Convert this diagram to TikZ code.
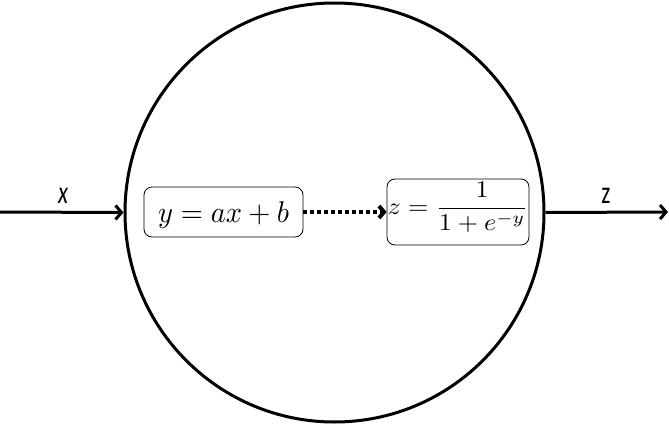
\documentclass[tikz,border=0pt]{standalone}
\usepackage{fontspec}
\newfontfamily\lblfont{Carlito}
\usetikzlibrary{arrows.meta}
\tikzset{
  conn/.style={line width=3pt, -{Straight Barb[length=6pt,width=14pt]}},
  dotconn/.style={line width=4pt, dash pattern=on 4pt off 3pt, -{Straight Barb[length=5pt,width=12pt]}},
  mathbox/.style={draw, line width=0.8pt, rounded corners=8pt, inner ysep=0pt, inner xsep=0pt},
  lbl/.style={font=\lblfont\fontsize{32}{34}\selectfont, inner sep=0pt},
}
\begin{document}
\begin{tikzpicture}[x=1pt,y=-1pt]
\useasboundingbox (0,0) rectangle (669,425);
\node[circle, draw, line width=3pt, minimum size=419pt, inner sep=0pt] (neuron) at (334.5,212.5) {};
\coordinate (in) at (0,212);
\coordinate (out) at (668,212);
\node[mathbox, minimum width=159pt, minimum height=50pt, text height=24pt, text depth=4pt] (lin) at (223.5,212)
  {\scalebox{2.84}[3.0]{$y=ax+b$}};
\node[mathbox, minimum width=142pt, minimum height=66pt, text height=20pt, text depth=16pt] (sig) at (458,212)
  {\scalebox{2.62}[2.4]{$\displaystyle z=\frac{1}{1+e^{-y}}$}};
\draw[conn] (in) -- (neuron.west);
\draw[conn] (neuron.east) -- (out);
\draw[dotconn] (lin.east) -- (sig.west);
\node[lbl] (xl) at (63,195.5) {\scalebox{0.72}[1]{\itshape x}};
\node[lbl] (zl) at (606,195.5) {\scalebox{0.72}[1]{z}};
\end{tikzpicture}
\end{document}
